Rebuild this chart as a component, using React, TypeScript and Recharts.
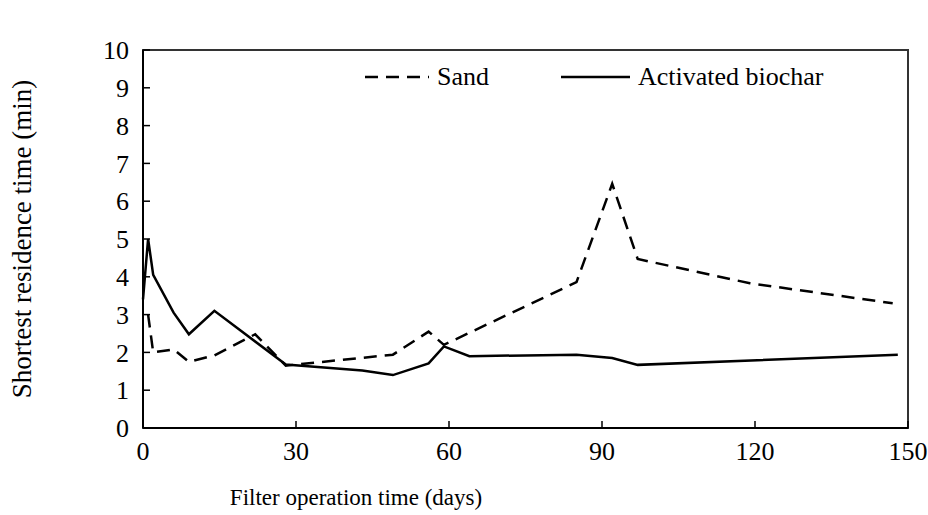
import {
  LineChart,
  Line,
  XAxis,
  YAxis,
  ReferenceArea,
  Legend,
  Label,
} from "recharts";

const sandDays = [1, 2, 6, 9, 14, 22, 28, 49, 56, 59, 85, 92, 97, 119, 147];
const sandValues = [3.0, 2.0, 2.08, 1.75, 1.92, 2.48, 1.65, 1.94, 2.55, 2.2, 3.86, 6.46, 4.47, 3.83, 3.3];

const biocharDays = [0, 1, 2, 6, 9, 14, 28, 43, 49, 56, 59, 64, 85, 92, 97, 148];
const biocharValues = [3.4, 5.0, 4.05, 3.05, 2.48, 3.1, 1.68, 1.52, 1.4, 1.71, 2.16, 1.9, 1.94, 1.85, 1.67, 1.94];

const xTicks = [0, 30, 60, 90, 120, 150];
const yTicks = [0, 1, 2, 3, 4, 5, 6, 7, 8, 9, 10];

const sand = sandDays.map((day, i) => ({ day, value: sandValues[i] }));
const biochar = biocharDays.map((day, i) => ({ day, value: biocharValues[i] }));

const font = "'Liberation Serif', 'Times New Roman', serif";

const LegendBox = () => (
  <div style={{ position: "relative", height: 30, fontFamily: font, fontSize: 26, color: "#000" }}>
    <svg width={70} height={30} style={{ position: "absolute", left: 0, top: 0 }}>
      <line x1={2} y1={15} x2={66} y2={15} stroke="#000" strokeWidth={2.5} strokeDasharray="13 8" />
    </svg>
    <span style={{ position: "absolute", left: 74, top: 0, lineHeight: "30px" }}>Sand</span>
    <svg width={72} height={30} style={{ position: "absolute", left: 198, top: 0 }}>
      <line x1={0} y1={15} x2={69} y2={15} stroke="#000" strokeWidth={2.5} />
    </svg>
    <span style={{ position: "absolute", left: 275, top: 0, lineHeight: "30px", whiteSpace: "nowrap" }}>
      Activated biochar
    </span>
  </div>
);

export default function App() {
  return (
    <div style={{ position: "absolute", left: 0, top: 0, background: "#fff" }}>
      <LineChart width={928} height={515} margin={{ top: 20, right: 20, bottom: 47, left: 83 }}>
        <XAxis
          dataKey="day"
          type="number"
          domain={[0, 150]}
          ticks={xTicks}
          allowDuplicatedCategory={false}
          height={40}
          tickSize={-7}
          tickMargin={21}
          axisLine={{ stroke: "#000", strokeWidth: 2 }}
          tickLine={{ stroke: "#000", strokeWidth: 1.5 }}
          tick={{ fill: "#000", fontSize: 26, fontFamily: font }}
        >
          <Label
            content={() => (
              <text x={356} y={505} textAnchor="middle" fontFamily={font} fontSize={23} fill="#000">
                Filter operation time (days)
              </text>
            )}
          />
        </XAxis>
        <YAxis
          dataKey="value"
          type="number"
          domain={[0, 10]}
          ticks={yTicks}
          width={60}
          tickSize={-7}
          tickMargin={21}
          axisLine={{ stroke: "#000", strokeWidth: 2 }}
          tickLine={{ stroke: "#000", strokeWidth: 1.5 }}
          tick={{ fill: "#000", fontSize: 26, fontFamily: font }}
        >
          <Label
            content={() => (
              <text
                x={31}
                y={239}
                textAnchor="middle"
                fontFamily={font}
                fontSize={27}
                fill="#000"
                transform="rotate(-90 31 239)"
              >
                Shortest residence time (min)
              </text>
            )}
          />
        </YAxis>
        <ReferenceArea x1={0} x2={150} y1={0} y2={10} fill="none" stroke="#333" strokeWidth={2} />
        <Legend
          verticalAlign="top"
          content={() => <LegendBox />}
          wrapperStyle={{ top: 62, left: 363, width: 480 }}
        />
        <Line
          data={sand}
          dataKey="value"
          name="Sand"
          type="linear"
          stroke="#000"
          strokeWidth={2.5}
          strokeDasharray="13 8"
          dot={false}
          isAnimationActive={false}
        />
        <Line
          data={biochar}
          dataKey="value"
          name="Activated biochar"
          type="linear"
          stroke="#000"
          strokeWidth={2.5}
          dot={false}
          isAnimationActive={false}
        />
      </LineChart>
    </div>
  );
}
